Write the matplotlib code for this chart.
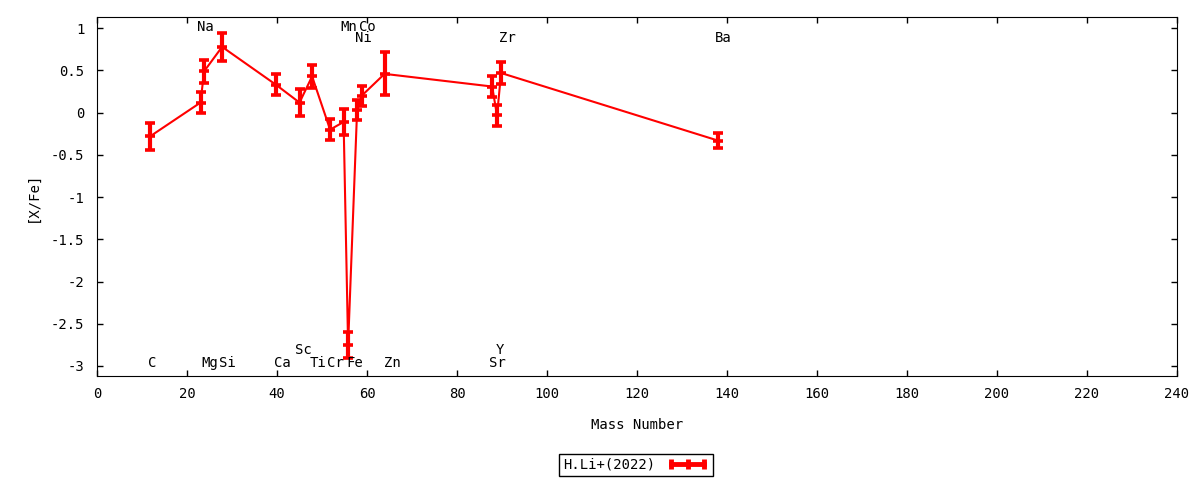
import numpy as np
import matplotlib
matplotlib.use('Agg')
import matplotlib.pyplot as plt
from matplotlib.lines import Line2D

plt.rcParams['font.family'] = ['DejaVu Sans Mono']
plt.rcParams['font.size'] = 10
plt.rcParams['axes.unicode_minus'] = False

# abundance pattern
elements = ['C', 'Na', 'Mg', 'Si', 'Ca', 'Sc', 'Ti', 'Cr', 'Mn', 'Fe',
            'Ni', 'Co', 'Zn', 'Sr', 'Y', 'Zr', 'Ba']
mass = [11.8, 23.0, 23.8, 27.8, 39.8, 45.0, 47.8, 51.8, 54.8, 55.8,
        57.8, 58.8, 63.9, 87.8, 88.9, 89.8, 138.0]
xfe = [-0.28, 0.12, 0.49, 0.78, 0.33, 0.12, 0.43, -0.20, -0.11, -2.75,
       0.03, 0.20, 0.46, 0.31, -0.03, 0.47, -0.33]
err = [0.16, 0.125, 0.14, 0.165, 0.125, 0.155, 0.14, 0.125, 0.155, 0.155,
       0.12, 0.12, 0.255, 0.12, 0.125, 0.125, 0.085]

# element name labels (x in mass units, y in [X/Fe] units)
label_text = ['C', 'Na', 'Mg', 'Si', 'Ca', 'Sc', 'Ti', 'Cr', 'Mn', 'Fe',
              'Ni', 'Co', 'Zn', 'Sr', 'Y', 'Zr', 'Ba']
label_x = [12.2, 24.1, 25.0, 28.9, 41.1, 45.9, 49.2, 53.0, 55.9, 57.2,
           59.2, 60.0, 65.6, 88.9, 89.5, 91.1, 139.1]
label_y = [-2.96, 1.015, -2.96, -2.96, -2.96, -2.81, -2.96, -2.96, 1.015, -2.96,
           0.885, 1.015, -2.96, -2.96, -2.81, 0.885, 0.885]

yticks = [-3, -2.5, -2, -1.5, -1, -0.5, 0, 0.5, 1]
xticks = list(range(0, 241, 20))

fig = plt.figure(figsize=(12, 4.8), dpi=100)
ax = fig.add_axes([97/1200, 1 - 375.7/480, 1080/1200, 358.4/480])

ax.errorbar(mass, xfe, yerr=err, color='red', lw=1.5,
            elinewidth=3, capsize=3.3, capthick=2.6,
            marker='_', ms=6.6, mew=2.6)

for t, x, y in zip(label_text, label_x, label_y):
    ax.text(x, y, t, ha='center', va='center', color='black')

ax.set_xlim(0, 240)
ax.set_ylim(-3.115, 1.13)
ax.set_xticks(xticks)
ax.set_yticks(yticks)
ax.set_yticklabels(['%g' % v for v in yticks])
ax.tick_params(direction='in', length=4.5, width=1, top=True, right=True)
ax.tick_params(axis='x', pad=8)
ax.tick_params(axis='y', pad=9)

ax.set_xlabel('Mass Number')
ax.xaxis.set_label_coords(0.5, -0.1376)
ax.xaxis.label.set_va('center')
ax.set_ylabel('[X/Fe]')
ax.yaxis.set_label_coords(-0.0599, 0.5)
ax.yaxis.label.set_va('center')

handle = Line2D([], [], color='red', lw=3.5, marker='|', ms=7, mew=3.5)
leg = fig.legend([handle], ['H.Li+(2022)'], loc='center',
                 bbox_to_anchor=(636/1200, 1 - 465/480),
                 markerfirst=False, numpoints=3, handlelength=3.0,
                 fancybox=False, framealpha=1, edgecolor='black',
                 borderpad=0.3, handletextpad=0.8, borderaxespad=0)
leg.get_frame().set_linewidth(1)

fig.savefig('out.png', dpi=100)
